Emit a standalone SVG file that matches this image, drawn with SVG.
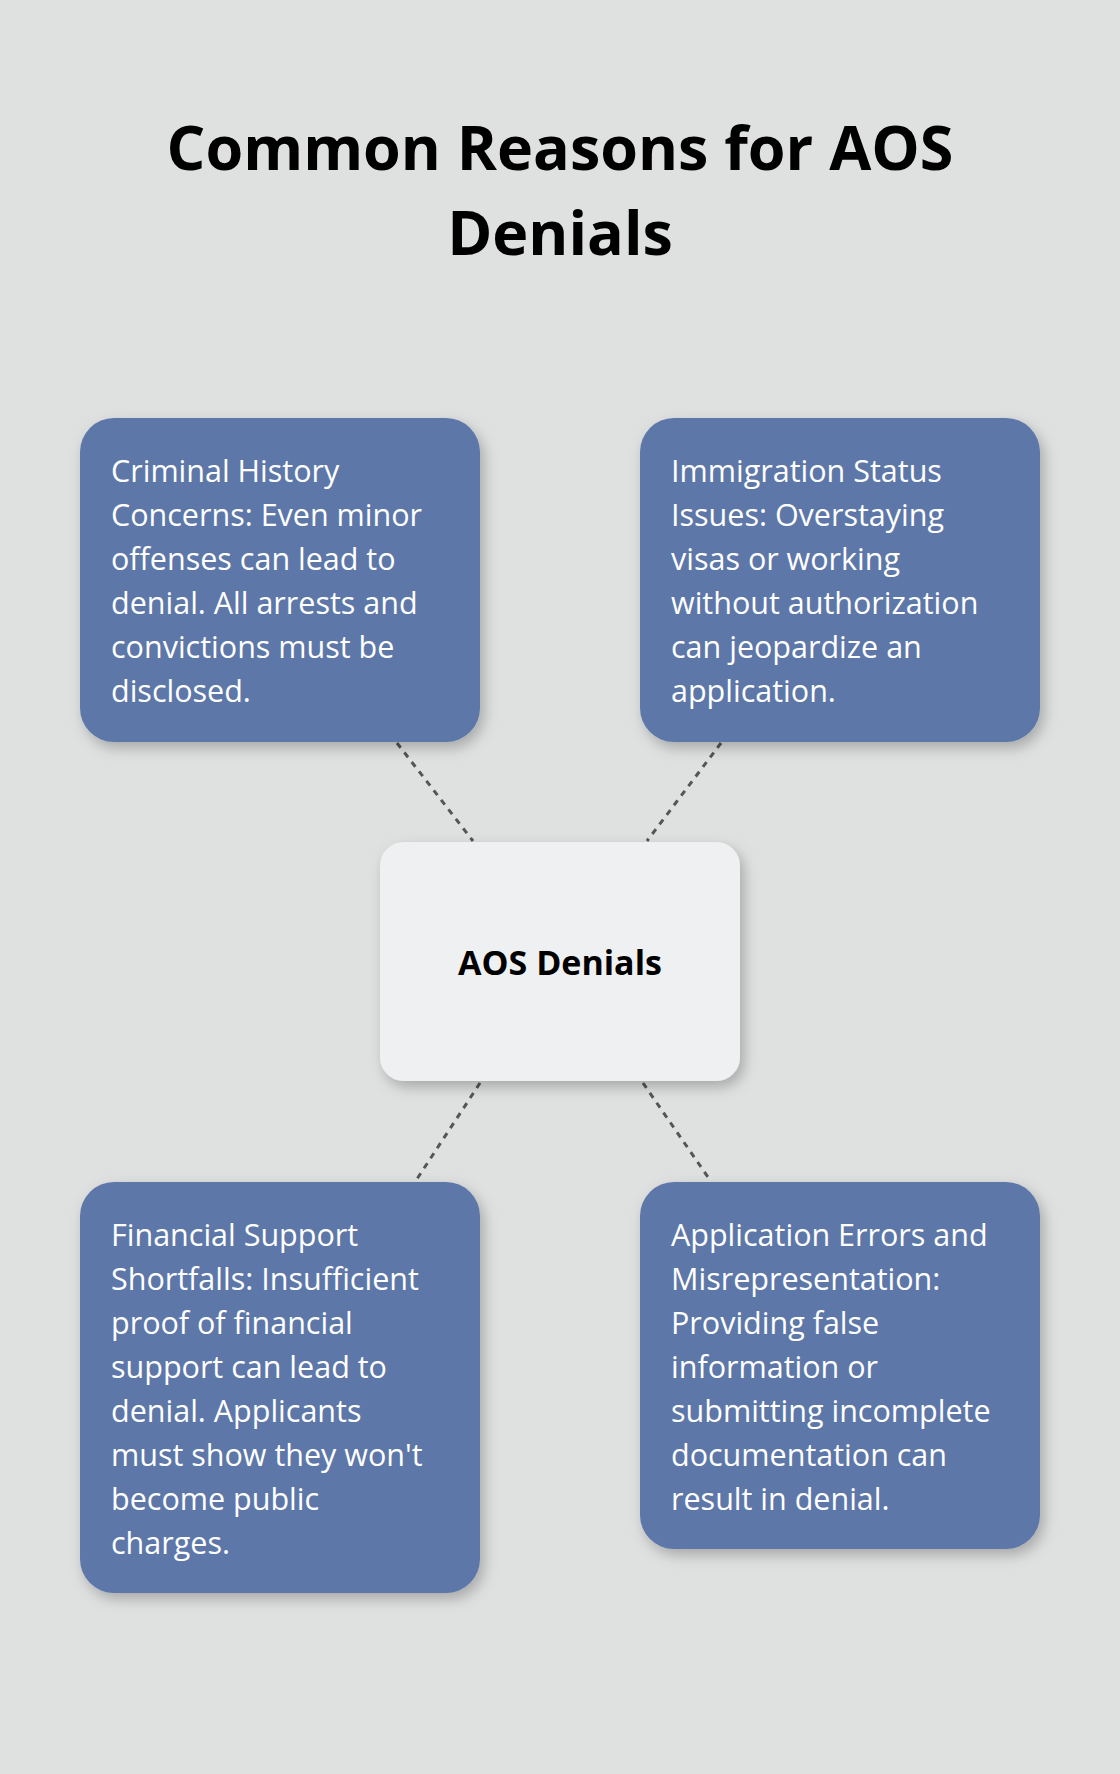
<svg xmlns="http://www.w3.org/2000/svg" width="1120" height="1774" viewBox="0 0 1120 1774">
<style>
.t{font-family:"Open Sans","Noto Sans",sans-serif;font-size:30.5px;fill:#ffffff}
.b{fill:#5d77a8}
.c{stroke:#555;stroke-width:3;stroke-dasharray:6,6;fill:none}
</style>
<defs><filter id="sh" x="-20%" y="-20%" width="140%" height="140%"><feDropShadow dx="4" dy="6" stdDeviation="7" flood-color="#000" flood-opacity="0.25"/></filter></defs>
<rect width="1120" height="1774" fill="#dfe1e0"/>
<g id="title" font-family="'Open Sans','Noto Sans',sans-serif" font-weight="bold" font-size="61" text-anchor="middle" fill="#000">
<text x="560" y="170">Common Reasons for AOS</text><text x="560" y="255">Denials</text></g>
<g id="connectors">
<line class="c" x1="397" y1="743" x2="473" y2="841"/>
<line class="c" x1="721" y1="743" x2="647" y2="841"/>
<line class="c" x1="480" y1="1083" x2="415" y2="1182"/>
<line class="c" x1="643" y1="1083" x2="710" y2="1180"/>
</g>
<g id="center"><rect x="380" y="842" width="360" height="239" rx="24" fill="#eff0f2" filter="url(#sh)"/>
<text x="560" y="975" text-anchor="middle" font-family="'Open Sans','Noto Sans',sans-serif" font-weight="bold" font-size="34">AOS Denials</text></g>
<g id="n1"><rect class="b" x="80" y="418" width="400" height="324" rx="34" filter="url(#sh)"/>
<text class="t"><tspan x="111" y="482">Criminal History</tspan><tspan x="111" y="526">Concerns: Even minor</tspan><tspan x="111" y="570">offenses can lead to</tspan><tspan x="111" y="614">denial. All arrests and</tspan><tspan x="111" y="658">convictions must be</tspan><tspan x="111" y="702">disclosed.</tspan></text></g>
<g id="n2"><rect class="b" x="640" y="418" width="400" height="324" rx="34" filter="url(#sh)"/>
<text class="t"><tspan x="671" y="482">Immigration Status</tspan><tspan x="671" y="526">Issues: Overstaying</tspan><tspan x="671" y="570">visas or working</tspan><tspan x="671" y="614">without authorization</tspan><tspan x="671" y="658">can jeopardize an</tspan><tspan x="671" y="702">application.</tspan></text></g>
<g id="n3"><rect class="b" x="80" y="1182" width="400" height="411" rx="34" filter="url(#sh)"/>
<text class="t"><tspan x="111" y="1246">Financial Support</tspan><tspan x="111" y="1290">Shortfalls: Insufficient</tspan><tspan x="111" y="1334">proof of financial</tspan><tspan x="111" y="1378">support can lead to</tspan><tspan x="111" y="1422">denial. Applicants</tspan><tspan x="111" y="1466">must show they won't</tspan><tspan x="111" y="1510">become public</tspan><tspan x="111" y="1554">charges.</tspan></text></g>
<g id="n4"><rect class="b" x="640" y="1182" width="400" height="367" rx="34" filter="url(#sh)"/>
<text class="t"><tspan x="671" y="1246">Application Errors and</tspan><tspan x="671" y="1290">Misrepresentation:</tspan><tspan x="671" y="1334">Providing false</tspan><tspan x="671" y="1378">information or</tspan><tspan x="671" y="1422">submitting incomplete</tspan><tspan x="671" y="1466">documentation can</tspan><tspan x="671" y="1510">result in denial.</tspan></text></g>
</svg>
